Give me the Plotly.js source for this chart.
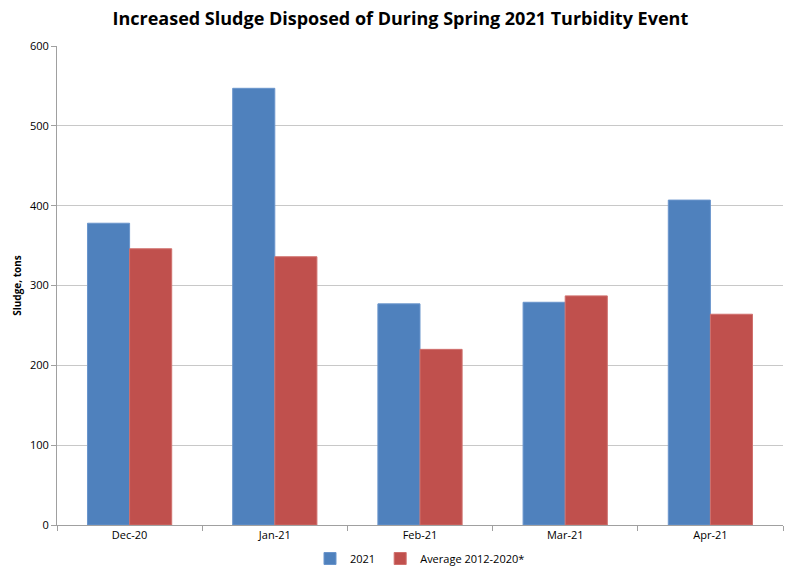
<!DOCTYPE html>
<html><head><meta charset="utf-8">
<script src="https://cdn.plot.ly/plotly-3.0.1.min.js"></script>
<style>html,body{margin:0;padding:0;background:#fff}</style>
</head><body>
<div id="chart" style="width:785px;height:573px"></div>
<script>
const months = ["Dec-20", "Jan-21", "Feb-21", "Mar-21", "Apr-21"];
const sludge2021 = [378, 547, 277, 279, 407];
const sludgeAvg = [346, 336, 220, 287, 264];
const seriesNames = ["2021", "Average 2012-2020*"];
const yTicks = [0, 100, 200, 300, 400, 500, 600];

const traces = [
  {type: "bar", x: months, y: sludge2021, name: seriesNames[0],
   marker: {color: "#4F81BD", line: {color: "#6A95CC", width: 1}}},
  {type: "bar", x: months, y: sludgeAvg, name: seriesNames[1],
   marker: {color: "#C0504D", line: {color: "#D0706D", width: 1}}}
];
const layout = {
  width: 785, height: 573,
  margin: {l: 57, r: 2, t: 46, b: 48},
  paper_bgcolor: "#fff", plot_bgcolor: "#fff",
  font: {family: "Open Sans, DejaVu Sans, sans-serif", size: 11, color: "#000"},
  title: {text: "<b>Increased Sludge Disposed of During Spring 2021 Turbidity Event</b>",
          font: {family: "Open Sans, sans-serif", size: 18, color: "#000"},
          x: 0.51, xanchor: "center", y: 0.968, yanchor: "middle"},
  barmode: "group", bargap: 0.42, bargroupgap: 0,
  xaxis: {type: "category", showline: true, linecolor: "#a0a0a0", linewidth: 1,
          ticks: "outside", tickson: "boundaries", ticklen: 5, tickcolor: "#a0a0a0",
          showgrid: false, tickfont: {size: 11}, fixedrange: true},
  yaxis: {range: [0, 600], tickvals: yTicks, ticktext: yTicks.map(String),
          showline: true, linecolor: "#a0a0a0", linewidth: 1,
          ticks: "outside", ticklen: 5, tickcolor: "#a0a0a0",
          showgrid: true, gridcolor: "#c8c8c8", gridwidth: 1, zeroline: false,
          tickfont: {size: 11},
          title: {text: "<b>Sludge, tons</b>", font: {size: 10}, standoff: 6}},
  legend: {orientation: "h", x: 0.5, xanchor: "center", yref: "container", y: 0, yanchor: "bottom",
           font: {size: 11}, itemwidth: 20, traceorder: "normal"},
  showlegend: true
};
Plotly.newPlot("chart", traces, layout, {displayModeBar: false, staticPlot: true});
</script>
</body></html>
